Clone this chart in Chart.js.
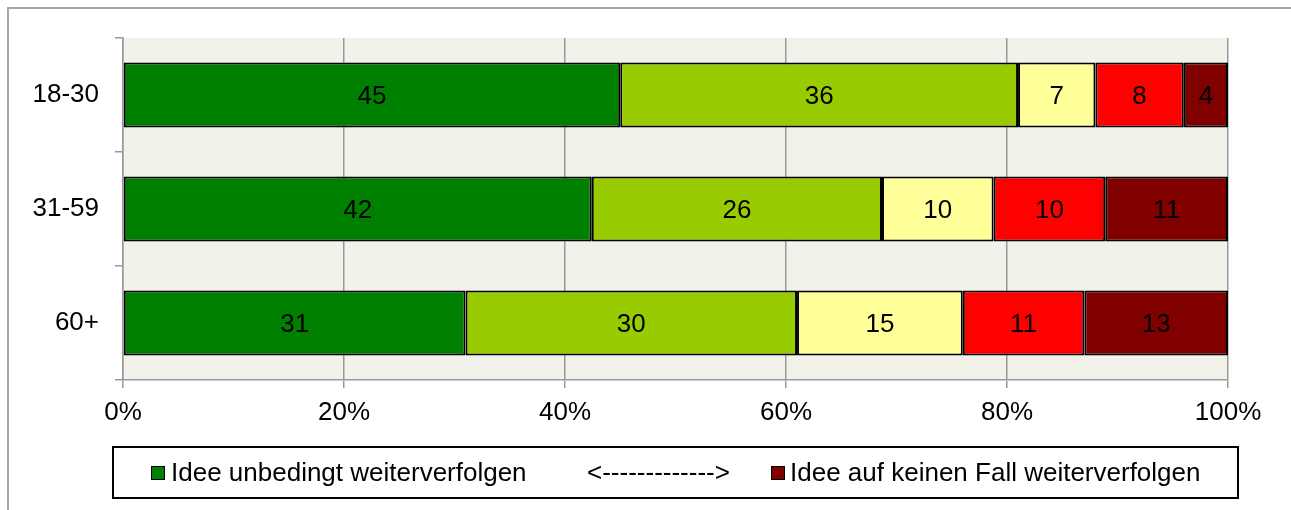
<!DOCTYPE html>
<html>
<head>
<meta charset="utf-8">
<script src="https://cdn.jsdelivr.net/npm/chart.js@4.4.1/dist/chart.umd.min.js"></script>
<style>
  body { margin: 0; background: #fff; font-family: Arial, "Liberation Sans", sans-serif; }
  #wrap { position: relative; width: 1291px; height: 510px; overflow: hidden; }
  #frame { position: absolute; left: 7px; top: 7px; width: 1400px; height: 600px;
           border-left: 2px solid #a6a6a6; border-top: 2px solid #a6a6a6; }
  #chart { position: absolute; left: 0; top: 0; }
  #legend { position: absolute; left: 112px; top: 446px; width: 1123px; height: 49px;
            border: 2px solid #000; font-size: 26px; color: #000; }
  #legend span { position: absolute; top: 0; line-height: 49px; white-space: nowrap; }
  #legend .box { top: 18px; width: 12px; height: 12px; border: 1px solid #000; }
</style>
</head>
<body>
<div id="wrap">
  <div id="frame"></div>
  <canvas id="chart" width="1291" height="510"></canvas>
  <div id="legend"></div>
</div>
<script>
const categories = ['18-30', '31-59', '60+'];

// Antworten je Altersgruppe
const unbedingt = [45, 42, 31];
const eherJa = [36, 26, 30];
const mitte = [7, 10, 15];
const eherNein = [8, 10, 11];
const keinenFall = [4, 11, 13];

const seriesData = [unbedingt, eherJa, mitte, eherNein, keinenFall];
const seriesColors = ['#008000', '#99cc00', '#ffff99', '#ff0000', '#800000'];

const xTicks = [0, 20, 40, 60, 80, 100];

const legendLeft = 'Idee unbedingt weiterverfolgen';
const legendMid = '<------------->';
const legendRight = 'Idee auf keinen Fall weiterverfolgen';

const fontFamily = 'Arial, "Liberation Sans", sans-serif';

// Zeilensummen fuer 100%-Stapel
const totals = categories.map((c, i) => seriesData.reduce((s, arr) => s + arr[i], 0));

const datasets = seriesData.map((arr, k) => ({
    label: k === 0 ? legendLeft : (k === 4 ? legendRight : ''),
    raw: arr,
    data: arr.map((v, i) => v / totals[i] * 100),
    backgroundColor: seriesColors[k],
    borderColor: '#000',
    borderWidth: 2,
    borderSkipped: false,
    barPercentage: 0.57,
    categoryPercentage: 1
}));

const plotBg = {
    id: 'plotBg',
    beforeDraw(chart) {
        const a = chart.chartArea;
        const ctx = chart.ctx;
        ctx.save();
        ctx.fillStyle = '#f2f1ea';
        ctx.fillRect(a.left, a.top, a.right - a.left, a.bottom - a.top);
        ctx.restore();
    }
};

const barValues = {
    id: 'barValues',
    afterDatasetsDraw(chart) {
        const ctx = chart.ctx;
        ctx.save();
        ctx.font = '26px ' + fontFamily;
        ctx.fillStyle = '#000';
        ctx.textAlign = 'center';
        ctx.textBaseline = 'middle';
        chart.data.datasets.forEach((ds, k) => {
            chart.getDatasetMeta(k).data.forEach((bar, i) => {
                const p = bar.getProps(['x', 'y', 'base'], true);
                ctx.fillText(ds.raw[i], (p.x + p.base) / 2, p.y + 2);
            });
        });
        ctx.restore();
    }
};

new Chart(document.getElementById('chart'), {
    type: 'bar',
    data: { labels: categories, datasets: datasets },
    options: {
        indexAxis: 'y',
        responsive: false,
        animation: false,
        layout: { padding: { top: 38, right: 63, left: 0, bottom: 80 } },
        plugins: {
            legend: { display: false },
            tooltip: { enabled: false }
        },
        scales: {
            x: {
                stacked: true,
                min: 0,
                max: 100,
                afterBuildTicks(scale) { scale.ticks = xTicks.map(v => ({ value: v })); },
                afterFit(scale) { scale.height = 50; },
                grid: { color: '#999', lineWidth: 1.5, tickLength: 8 },
                border: { display: true, color: '#999', width: 1.5 },
                ticks: {
                    color: '#000',
                    padding: 9,
                    font: { size: 26, family: fontFamily },
                    callback: v => v + '%'
                }
            },
            y: {
                stacked: true,
                afterFit(scale) { scale.width = 123; },
                grid: { drawOnChartArea: false, color: '#999', lineWidth: 1.5, tickLength: 8 },
                border: { display: true, color: '#999', width: 1.5 },
                ticks: {
                    color: '#000',
                    padding: 16,
                    font: { size: 26, family: fontFamily }
                }
            }
        }
    },
    plugins: [plotBg, barValues]
});

// Legende: nur die beiden Enden der Skala
const legend = document.getElementById('legend');
legend.innerHTML =
    `<span class="box" style="left:37px;background:${seriesColors[0]}"></span>` +
    `<span style="left:57px">${legendLeft}</span>` +
    `<span style="left:473px">${legendMid.replace(/</g, '&lt;').replace(/>/g, '&gt;')}</span>` +
    `<span class="box" style="left:657px;background:${seriesColors[4]}"></span>` +
    `<span style="left:676px">${legendRight}</span>`;
</script>
</body>
</html>
